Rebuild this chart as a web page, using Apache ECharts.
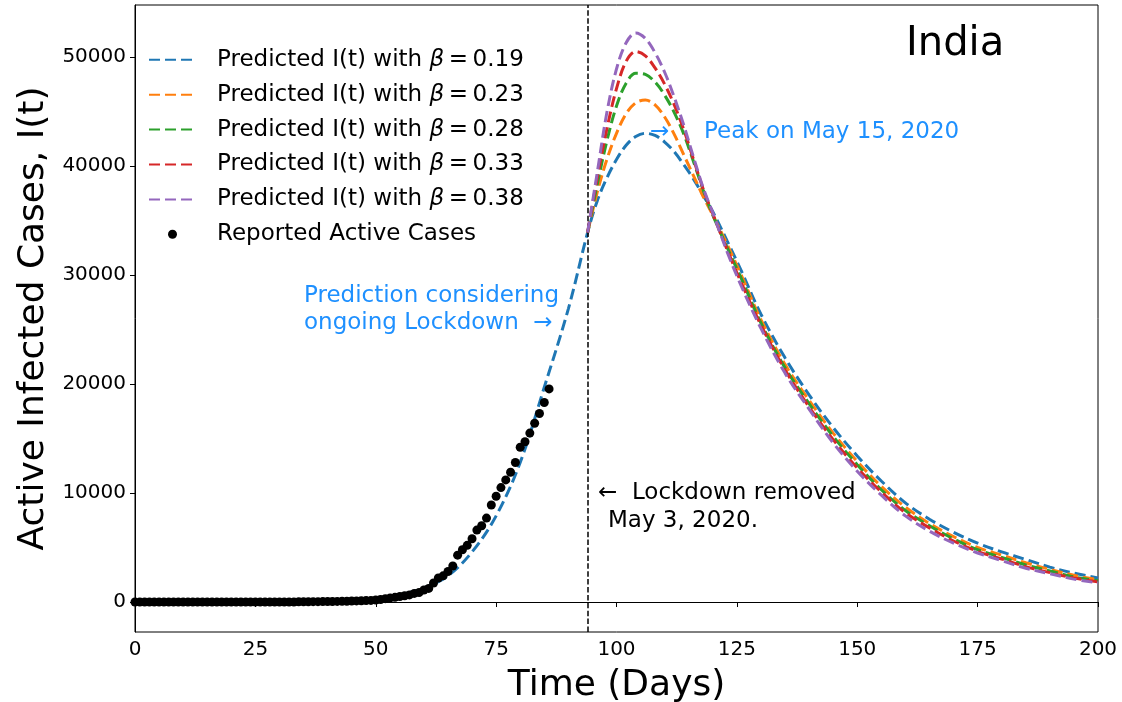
<!DOCTYPE html>
<html>
<head>
<meta charset="utf-8">
<title>India I(t)</title>
<script src="https://cdn.jsdelivr.net/npm/echarts@6/dist/echarts.min.js"></script>
<style>
  html, body { margin: 0; padding: 0; background: #fff; }
  #main { width: 1122px; height: 702px; }
</style>
</head>
<body>
<div id="main"></div>
<script>
// reported active cases, one per day from day 0
var reportedDays = [];
for (var d = 0; d <= 86; d++) reportedDays.push(d);
var reportedCases = [
  1, 1, 1, 2, 3, 3, 3, 3, 3, 3,
  3, 3, 3, 3, 3, 3, 3, 3, 3, 3,
  3, 3, 0, 0, 0, 0, 0, 0, 0, 0,
  0, 2, 3, 5, 25, 28, 29, 31, 34, 39,
  43, 50, 56, 62, 73, 96, 100, 114, 133, 151,
  187, 230, 308, 376, 429, 503, 574, 652, 793, 874,
  1100, 1250, 1750, 2200, 2400, 2800, 3300, 4300, 4800, 5200,
  5800, 6600, 7000, 7700, 8900, 9700, 10500, 11200, 11900, 12800,
  14200, 14700, 15500, 16400, 17300, 18300, 19550
];

// beta = 0.19 prediction, whole range
var blueDays = [0, 10, 20, 30, 40, 45, 50, 55, 60, 65, 70, 75, 80, 85, 90,
  94, 96, 98, 100, 102, 104, 106, 108, 110, 112, 114, 116, 118, 120, 123, 126,
  130, 135, 140, 145, 150, 155, 160, 165, 170, 175, 180, 185, 190, 195, 200];
var blueVals = [0, 0, 0, 5, 50, 120, 300, 650, 1300, 2400, 4600, 7900, 12800, 19700, 26900,
  33900, 36800, 38900, 40600, 41900, 42700, 43000, 42800, 42200, 41300, 40100, 38800, 37300, 35800, 33100, 30300,
  26400, 22400, 19000, 16000, 13400, 11100, 9100, 7600, 6400, 5400, 4600, 3900, 3200, 2650, 2200];

// other betas, after lockdown removal
var postDays = [94, 96, 98, 100, 102, 104, 106, 108, 110, 112, 114, 116, 118, 120, 123, 126,
  130, 135, 140, 145, 150, 155, 160, 165, 170, 175, 180, 185, 190, 195, 200];
var orangeVals = [33900, 37600, 40600, 43000, 44800, 45800, 46050, 45600, 44500, 42900, 41000, 39100, 37200, 35500, 32800, 29900,
  25900, 21800, 18500, 15500, 12900, 10600, 8700, 7200, 6000, 5000, 4300, 3600, 3000, 2450, 2050];
var greenVals = [33900, 38300, 42300, 45500, 47600, 48500, 48400, 47700, 46500, 44900, 42900, 40400, 37800, 35500, 32500, 29600,
  25600, 21500, 18200, 15200, 12600, 10300, 8400, 7000, 5800, 4800, 4100, 3400, 2850, 2300, 1950];
var redVals = [33900, 38900, 43400, 47100, 49600, 50500, 50100, 49000, 47500, 45600, 43300, 40600, 37900, 35600, 32300, 29200,
  25400, 21300, 17900, 14900, 12300, 10100, 8200, 6800, 5600, 4650, 3950, 3250, 2700, 2200, 1850];
var purpleVals = [33900, 39400, 44900, 48900, 51300, 52200, 51700, 50400, 48600, 46300, 43700, 40800, 38000, 35700, 32100, 28900,
  25100, 21000, 17700, 14600, 12000, 9800, 7900, 6500, 5400, 4500, 3800, 3100, 2600, 2100, 1750];

var betas = ['0.19', '0.23', '0.28', '0.33', '0.38'];
var colors = ['#1f77b4', '#ff7f0e', '#2ca02c', '#d62728', '#9467bd'];
var lockdownDay = 94;
var yTicks = [0, 10000, 20000, 30000, 40000, 50000];

var FONT = 'DejaVu Sans';
var ANN = '#1e90ff';

function pairs(xs, ys) {
  var out = [];
  for (var i = 0; i < xs.length; i++) out.push([xs[i], ys[i]]);
  return out;
}
function predName(b) { return 'Predicted I(t) with β=' + b; }

var predVals = [blueVals, orangeVals, greenVals, redVals, purpleVals];
var series = [];
for (var i = 0; i < 5; i++) {
  var s = {
    name: predName(betas[i]),
    type: 'line',
    data: i === 0 ? pairs(blueDays, blueVals) : pairs(postDays, predVals[i]),
    smooth: 0.35,
    symbol: 'none',
    color: colors[i],
    lineStyle: { color: colors[i], width: 3, type: [11, 5] },
    z: 2 + i
  };
  if (i === 0) {
    s.markLine = {
      silent: true,
      symbol: 'none',
      label: { show: false },
      lineStyle: { color: '#000', width: 1.5, type: [5.5, 2.4] },
      data: [{ xAxis: lockdownDay }]
    };
  }
  series.push(s);
}
series.push({
  name: 'Reported Active Cases',
  type: 'scatter',
  data: pairs(reportedDays, reportedCases),
  symbolSize: 9,
  itemStyle: { color: '#000', opacity: 1 },
  z: 10
});

var legendData = series.map(function (s) {
  if (s.type === 'line') return { name: s.name, itemStyle: { opacity: 0 } };
  return { name: s.name, itemStyle: { color: '#000', opacity: 1 } };
});

var myChart = echarts.init(document.getElementById('main'));
var option = {
  backgroundColor: '#fff',
  animation: false,
  textStyle: { fontFamily: FONT },
  grid: {
    left: 135, right: 24, top: 5, bottom: 70,
    outerBoundsMode: 'none',
    show: true, borderColor: '#000', borderWidth: 1
  },
  legend: {
    orient: 'vertical',
    left: 143,
    top: 43,
    itemWidth: 47,
    itemHeight: 9,
    itemGap: 11.3 - 0.0,
    selectedMode: false,
    data: legendData,
    formatter: function (name) {
      if (name.indexOf('β=') < 0) return '{n|' + name + '}';
      var parts = name.split('β=');
      return '{n|' + parts[0] + '}{b|β}{n|\u2009=\u2009' + parts[1] + '}';
    },
    textStyle: {
      padding: [0, 0, 0, 16],
      lineHeight: 23.6,
      rich: {
        n: { fontFamily: FONT, fontSize: 23, color: '#000', lineHeight: 23.6 },
        b: { fontFamily: FONT, fontSize: 23, color: '#000', fontStyle: 'italic', lineHeight: 23.6 }
      }
    }
  },
  xAxis: {
    type: 'value',
    min: 0,
    max: 200,
    interval: 25,
    name: 'Time (Days)',
    nameLocation: 'middle',
    nameGap: 36,
    nameTextStyle: { fontFamily: FONT, fontSize: 36, color: '#000' },
    axisLine: { show: true, lineStyle: { color: '#000', width: 1 } },
    axisTick: { show: true, inside: false, length: 5, lineStyle: { color: '#000' } },
    axisLabel: { fontFamily: FONT, fontSize: 20, color: '#000', margin: 8 },
    splitLine: { show: false }
  },
  yAxis: {
    type: 'value',
    min: -2750,
    max: 54770,
    name: 'Active Infected Cases, I(t)',
    nameLocation: 'middle',
    nameGap: 78,
    nameTextStyle: { fontFamily: FONT, fontSize: 36, color: '#000' },
    axisLine: { show: true, lineStyle: { color: '#000', width: 1 } },
    axisTick: { show: true, inside: false, length: 5, lineStyle: { color: '#000' }, customValues: yTicks },
    axisLabel: {
      fontFamily: FONT, fontSize: 20, color: '#000', margin: 9, customValues: yTicks,
      formatter: function (v) { return String(v); }
    },
    splitLine: { show: false }
  },
  graphic: [
    { type: 'text', left: 906, top: 25, style: { text: 'India', font: '40px "DejaVu Sans"', fill: '#000' } },
    { type: 'text', left: 650, top: 121, style: { text: '→', font: '23px "DejaVu Sans"', fill: ANN } },
    { type: 'text', left: 704, top: 121, style: { text: 'Peak on May 15, 2020', font: '23px "DejaVu Sans"', fill: ANN } },
    { type: 'text', left: 304, top: 285, style: { text: 'Prediction considering', font: '23px "DejaVu Sans"', fill: ANN } },
    { type: 'text', left: 304, top: 312, style: { text: 'ongoing Lockdown  →', font: '23px "DejaVu Sans"', fill: ANN } },
    { type: 'text', left: 598, top: 482, style: { text: '←  Lockdown removed', font: '23px "DejaVu Sans"', fill: '#000' } },
    { type: 'text', left: 608, top: 510, style: { text: 'May 3, 2020.', font: '23px "DejaVu Sans"', fill: '#000' } }
  ],
  series: series
};
myChart.setOption(option);
</script>
</body>
</html>
